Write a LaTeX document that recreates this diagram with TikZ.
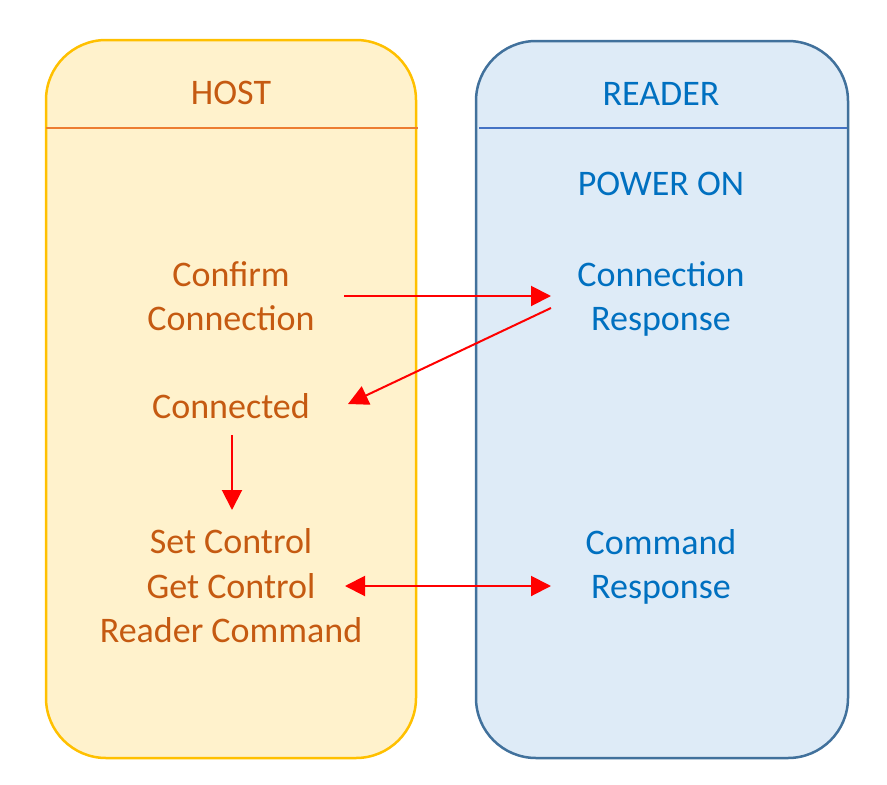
\documentclass[tikz,border=0pt]{standalone}
\usepackage{fontspec}
\setmainfont{Carlito}
\usetikzlibrary{arrows.meta}
\definecolor{hostfill}{HTML}{FFF2CC}
\definecolor{hostdraw}{HTML}{FFC000}
\definecolor{hostline}{HTML}{ED7D31}
\definecolor{hosttext}{HTML}{C55A11}
\definecolor{readfill}{HTML}{DEEBF7}
\definecolor{readdraw}{HTML}{41719C}
\definecolor{readline}{HTML}{4472C4}
\definecolor{readtext}{HTML}{0070C0}
\begin{document}
\begin{tikzpicture}[x=1pt,y=-1pt,
  lane/.style={line width=2.5pt, rounded corners=60pt},
  txt/.style={font=\fontsize{36}{44.5}\selectfont, align=center, inner sep=0pt},
  htxt/.style={txt, text=hosttext},
  rtxt/.style={txt, text=readtext},
  flow/.style={red, line width=2pt, -{Triangle[length=20pt,width=20pt]}},
  flow2/.style={red, line width=2pt, {Triangle[length=20pt,width=20pt]}-{Triangle[length=20pt,width=20pt]}}]
\useasboundingbox (0,0) rectangle (887,785);
% lanes
\draw[lane, draw=hostdraw, fill=hostfill] (46,40) rectangle (416,758);
\draw[lane, draw=readdraw, fill=readfill] (476,41) rectangle (848,758);
\draw[hostline, line width=1.5pt] (46,128) -- (418,128);
\draw[readline, line width=1.5pt] (479,128) -- (847,128);
% texts
\node[htxt] (host) at (231,93) {HOST};
\node[rtxt] (reader) at (661,94) {READER};
\node[rtxt] (power) at (661,184) {POWER ON};
\node[htxt] (confirm) at (231,296) {Confirm\\Connection};
\node[rtxt] (connresp) at (661,299) {Connection\\Response};
\node[htxt] (connected) at (231,406) {Connected};
\node[htxt] (cmds) at (231,586) {Set Control\\Get Control\\Reader Command};
\node[rtxt] (cmdresp) at (661,567) {Command\\Response};
% arrow endpoints
\coordinate (a1s) at (344,296);
\coordinate (a1e) at (551,296);
\coordinate (a2s) at (551,308);
\coordinate (a2e) at (348,404);
\coordinate (a3s) at (232,435);
\coordinate (a3e) at (232,510);
\coordinate (a4s) at (345,586);
\coordinate (a4e) at (551,586);
\draw[flow] (a1s) -- (a1e);
\draw[flow] (a2s) -- (a2e);
\draw[flow] (a3s) -- (a3e);
\draw[flow2] (a4s) -- (a4e);
\end{tikzpicture}
\end{document}
